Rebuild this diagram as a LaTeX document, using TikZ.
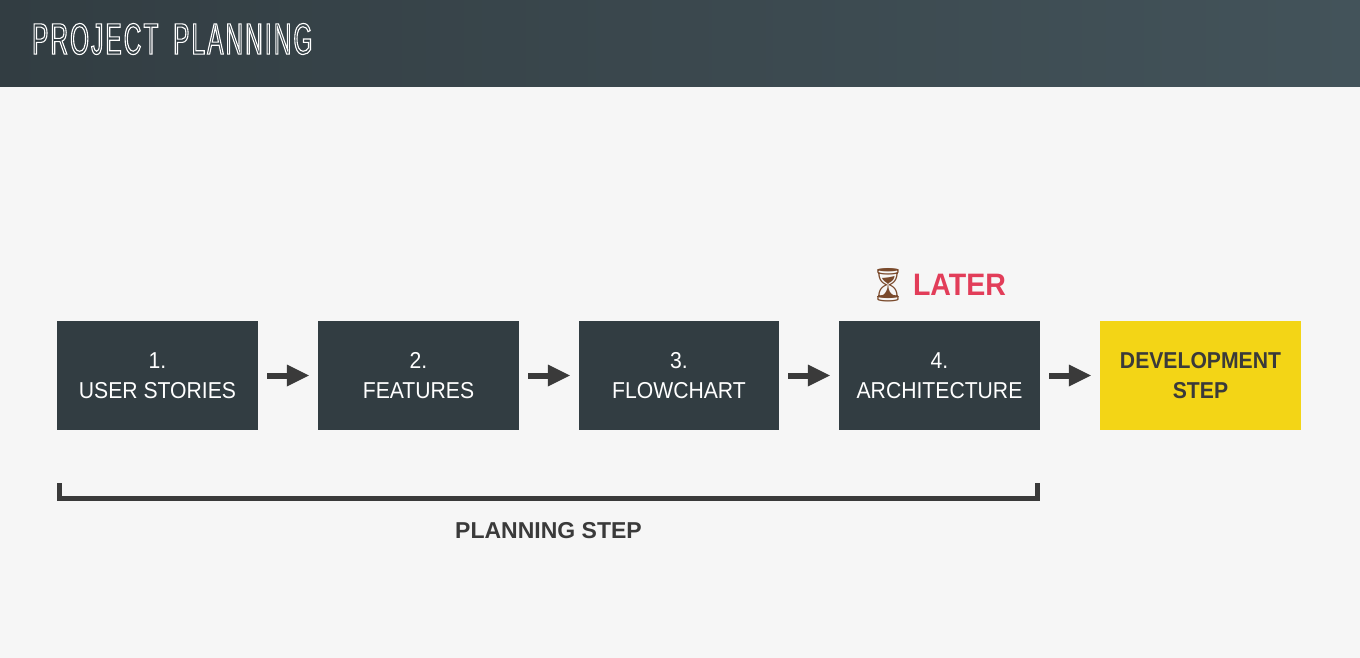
\documentclass[tikz,border=0pt]{standalone}
\usepackage{fontspec}
\setmainfont{Liberation Sans}
\newfontfamily\titlefont[FakeStretch=0.55,LetterSpace=5]{Liberation Sans}
\newfontfamily\boxfont[FakeStretch=0.92]{Liberation Sans}
\newfontfamily\emojifont{Noto Emoji}
\usetikzlibrary{arrows.meta}
\definecolor{pagebg}{HTML}{F6F6F6}
\definecolor{boxdark}{HTML}{323D42}
\definecolor{headright}{HTML}{43535A}
\definecolor{boxyellow}{HTML}{F3D516}
\definecolor{inkdark}{HTML}{3A3A3A}
\definecolor{laterred}{HTML}{E23D59}
\definecolor{glassbrown}{HTML}{7A4A2C}
\tikzset{
	stepbox/.style={fill=boxdark,text=white,minimum height=109pt,align=center,inner sep=0pt,font=\fontsize{23}{30}\selectfont\boxfont},
	devbox/.style={stepbox,fill=boxyellow,text=inkdark,font=\fontsize{23}{30}\selectfont\boxfont\bfseries},
	flowarrow/.style={draw=inkdark,line width=6pt,-{Triangle[length=22pt,width=22pt,line width=0pt]},shorten <=9pt,shorten >=9pt},
}
\begin{document}
\begin{tikzpicture}[x=1pt,y=-1pt,line cap=butt,line join=miter]
	\useasboundingbox (0,0) rectangle (1360,658);
	\fill[pagebg] (0,0) rectangle (1360,658);
	\shade[left color=boxdark,right color=headright] (0,0) rectangle (1360,87);
	\node[anchor=west,text=white,inner sep=0pt,font=\fontsize{44}{44}\selectfont\titlefont] (title) at (32,39)
		{\special{pdf:code 1.1 w 1 Tr}PROJECT\hspace{6pt} PLANNING\special{pdf:code 0 Tr}};
	% boxes of the flow
	\node[stepbox,minimum width=201pt] (stories) at (157.5,375.5) {1.\\USER STORIES};
	\node[stepbox,minimum width=201pt] (features) at (418.5,375.5) {2.\\FEATURES};
	\node[stepbox,minimum width=200pt] (flowchart) at (679,375.5) {3.\\FLOWCHART};
	\node[stepbox,minimum width=201pt] (architecture) at (939.5,375.5) {4.\\ARCHITECTURE};
	\node[devbox,minimum width=201pt] (development) at (1200.5,375.5) {DEVELOPMENT\\STEP};
	\draw[flowarrow] (stories) -- (features);
	\draw[flowarrow] (features) -- (flowchart);
	\draw[flowarrow] (flowchart) -- (architecture);
	\draw[flowarrow] (architecture) -- (development);
	\node[text=laterred,inner sep=0pt,font=\fontsize{31}{31}\selectfont\boxfont\bfseries] (later) at (959.5,285) {LATER};
	\node[text=glassbrown,inner sep=0pt,font=\fontsize{33}{33}\selectfont\emojifont] (glass) at (888,285) {^^^^23f3};
	% bracket under the planning boxes
	\coordinate (bracketl) at (59.5,483);
	\coordinate (bracketr) at (1037.5,483);
	\draw[inkdark,line width=5pt] (bracketl) -- ++(0,15.5) -| (bracketr);
	\node[text=inkdark,inner sep=0pt,font=\fontsize{23}{23}\selectfont\bfseries] (planning) at (548.5,531) {PLANNING STEP};
\end{tikzpicture}
\end{document}
